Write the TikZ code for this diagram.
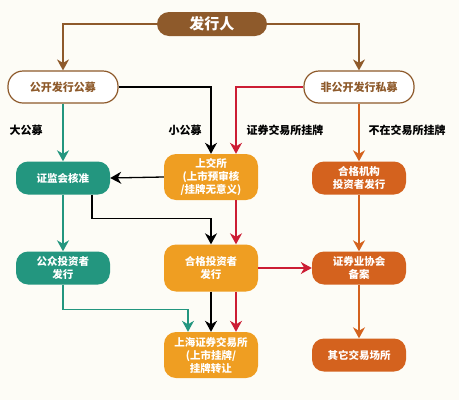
\documentclass[tikz,border=0pt]{standalone}
\usepackage{fontspec}
\newfontfamily\cjk{Noto Sans CJK SC}
\usepackage{xcolor}
\usetikzlibrary{arrows.meta,positioning}
\definecolor{bgcream}{HTML}{FDFCF6}
\definecolor{issuerbrown}{HTML}{8E5A2B}
\definecolor{pubgreen}{HTML}{23967F}
\definecolor{sseorange}{HTML}{EF9E22}
\definecolor{privorange}{HTML}{D4621E}
\definecolor{listred}{HTML}{CC1D34}
\begin{document}
\begin{tikzpicture}[x=1pt,y=-1pt,
  top/.style={fill=issuerbrown,text=white,rounded corners=12pt,minimum width=110pt,minimum height=24pt,inner sep=0pt,font=\cjk\bfseries\fontsize{15}{17}\selectfont},
  mode/.style={draw=issuerbrown,line width=1.2pt,fill=white,text=issuerbrown,rounded corners=15pt,minimum width=110pt,minimum height=32pt,inner sep=0pt,font=\cjk\bfseries\fontsize{11}{13}\selectfont},
  box/.style={text=white,rounded corners=12pt,minimum width=94pt,minimum height=33pt,inner sep=0pt,align=center,font=\cjk\bfseries\fontsize{10.5}{13}\selectfont},
  lbl/.style={font=\cjk\bfseries\fontsize{11}{13}\selectfont},
  conn/.style={line width=1.3pt,-{Stealth[length=11pt,width=12pt,inset=3.5pt]}},
  brownarrow/.style={conn,draw=issuerbrown},
  greenarrow/.style={conn,draw=pubgreen},
  blackarrow/.style={conn,draw=black},
  redarrow/.style={conn,draw=listred},
  orangearrow/.style={conn,draw=privorange}]
\fill[bgcream] (0,0) rectangle (459,400);
\useasboundingbox (0,0) rectangle (459,400);
% nodes
\node[top] (issuer) at (212,24) {发行人};
\node[mode] (public) at (63,87) {公开发行公募};
\node[mode] (private) at (359,87) {非公开发行私募};
\node[box,fill=pubgreen] (csrc) at (63,178) {证监会核准};
\node[box,fill=sseorange,minimum height=46pt] (sse) at (211,177) {上交所\\(上市预审核\\/挂牌无意义)};
\node[box,fill=privorange] (inst) at (359,178) {合格机构\\投资者发行};
\node[box,fill=pubgreen] (pubinv) at (63,268) {公众投资者\\发行};
\node[box,fill=sseorange,minimum height=47pt] (qual) at (211,268) {合格投资者\\发行};
\node[box,fill=privorange] (sac) at (359,268) {证券业协会\\备案};
\node[box,fill=sseorange,minimum height=46pt] (shse) at (211,355) {上海证券交易所\\(上市挂牌/\\挂牌转让};
\node[box,fill=privorange] (other) at (359,355) {其它交易场所};
% labels
\node[lbl] (biglbl) at (26,130) {大公募};
\node[lbl] (smalllbl) at (185,130) {小公募};
\node[lbl] (listlbl) at (285,130) {证券交易所挂牌};
\node[lbl] (otclbl) at (407,130) {不在交易所挂牌};
% connectors
\draw[brownarrow] (issuer.west) -| (public.north);
\draw[brownarrow] (issuer.east) -| (private.north);
\draw[greenarrow] (public.south) -- (csrc.north);
\draw[blackarrow] (public.east) -| (sse.north);
\draw[redarrow] (private.west) -| ([xshift=25pt]sse.north);
\draw[orangearrow] (private.south) -- (inst.north);
\draw[blackarrow] (sse.west) -- (csrc.east);
\draw[greenarrow] (csrc.south) -- (pubinv.north);
\draw[blackarrow] ([xshift=29pt]csrc.south) -- ++(0,24) -| (qual.north);
\draw[redarrow] ([xshift=25pt]sse.south) -- ([xshift=25pt]qual.north);
\draw[redarrow] (qual.east) -- (sac.west);
\draw[orangearrow] (inst.south) -- (sac.north);
\draw[greenarrow] (pubinv.south) -- ++(0,25) -| ([xshift=-23pt]shse.north);
\draw[blackarrow] (qual.south) -- (shse.north);
\draw[redarrow] ([xshift=25pt]qual.south) -- ([xshift=25pt]shse.north);
\draw[orangearrow] (sac.south) -- (other.north);
\end{tikzpicture}
\end{document}
